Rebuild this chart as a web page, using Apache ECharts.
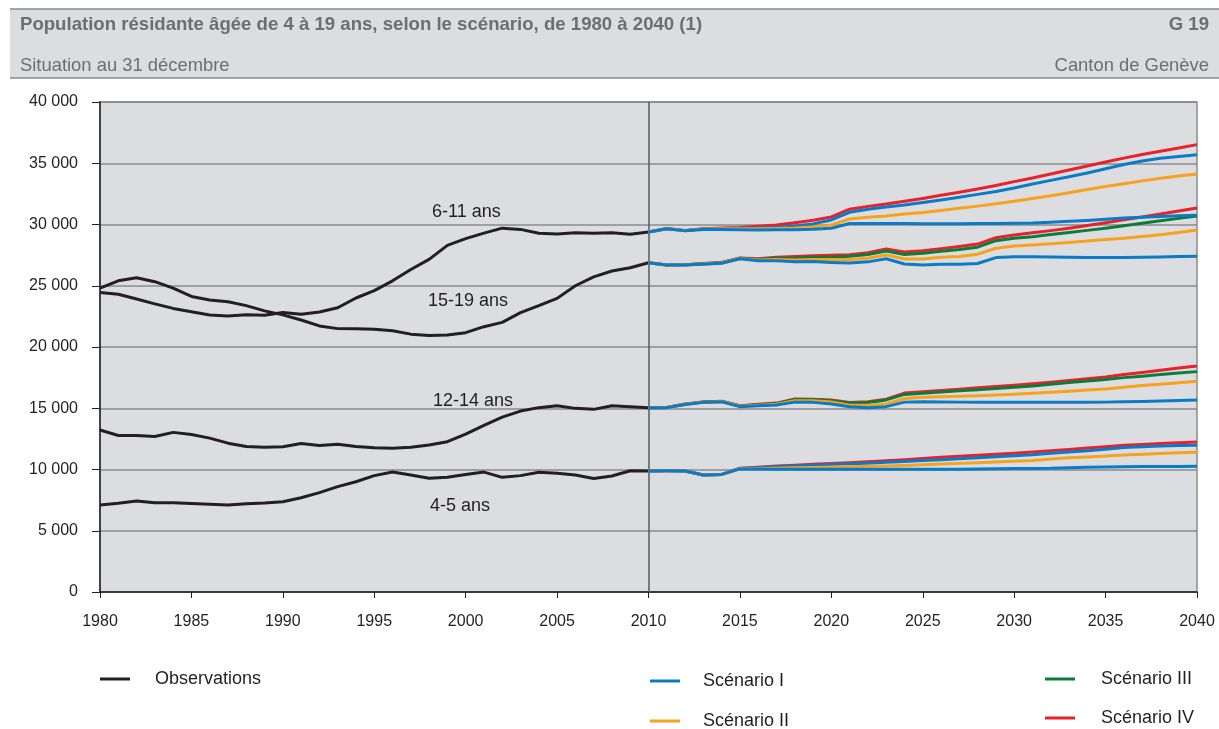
<!DOCTYPE html>
<html>
<head>
<meta charset="utf-8">
<script src="https://cdn.jsdelivr.net/npm/echarts@6/dist/echarts.min.js"></script>
<style>
  html, body { margin: 0; padding: 0; background: #fff; }
  #main { width: 1219px; height: 729px; }
</style>
</head>
<body>
<div id="main"></div>
<script>
// observations 1980-2010
var obs6_11 = [24450, 24300, 23920, 23520, 23150, 22880, 22620, 22540, 22640, 22600, 22820, 22680, 22860, 23200, 24000, 24600, 25400, 26330, 27150, 28300, 28850, 29300, 29700, 29600, 29280, 29220, 29330, 29280, 29330, 29200, 29380];
var obs15_19 = [24800, 25400, 25650, 25330, 24800, 24130, 23840, 23700, 23380, 22950, 22620, 22200, 21720, 21500, 21480, 21450, 21330, 21050, 20930, 20980, 21170, 21660, 22010, 22800, 23370, 23970, 25000, 25730, 26200, 26470, 26880];
var obs12_14 = [13220, 12780, 12780, 12700, 13030, 12850, 12560, 12150, 11870, 11810, 11860, 12120, 11950, 12070, 11880, 11780, 11740, 11810, 12000, 12270, 12880, 13600, 14280, 14770, 15050, 15210, 14990, 14910, 15200, 15130, 15050];
var obs4_5 = [7100, 7240, 7430, 7290, 7290, 7220, 7160, 7100, 7210, 7260, 7370, 7690, 8110, 8600, 9000, 9500, 9800, 9550, 9280, 9360, 9600, 9790, 9360, 9500, 9770, 9690, 9550, 9260, 9470, 9900, 9880];

// scenarios 2010-2040
var s1_6_11 = [29380, 29650, 29480, 29600, 29600, 29580, 29560, 29570, 29580, 29620, 29700, 30080, 30090, 30090, 30080, 30070, 30070, 30070, 30080, 30090, 30100, 30120, 30180, 30260, 30330, 30420, 30530, 30600, 30660, 30710, 30750];
var s2_6_11 = [29380, 29650, 29500, 29620, 29650, 29650, 29650, 29680, 29720, 29800, 29960, 30450, 30600, 30700, 30850, 30980, 31150, 31320, 31500, 31700, 31900, 32120, 32350, 32600, 32850, 33100, 33330, 33560, 33780, 33960, 34120];
var s3_6_11 = [29380, 29660, 29500, 29630, 29680, 29700, 29720, 29780, 29880, 30050, 30370, 31000, 31250, 31420, 31600, 31800, 32000, 32220, 32460, 32700, 32980, 33300, 33600, 33900, 34200, 34550, 34900, 35180, 35400, 35560, 35700];
var s4_6_11 = [29380, 29670, 29520, 29660, 29720, 29760, 29850, 29960, 30150, 30350, 30620, 31250, 31480, 31680, 31900, 32130, 32380, 32640, 32900, 33180, 33500, 33800, 34120, 34450, 34780, 35100, 35420, 35720, 35980, 36250, 36520];

var s1_15_19 = [26880, 26700, 26700, 26760, 26830, 27200, 27050, 27050, 26950, 26980, 26900, 26850, 26950, 27200, 26780, 26700, 26750, 26760, 26820, 27300, 27370, 27370, 27350, 27320, 27300, 27300, 27300, 27330, 27350, 27380, 27400];
var s2_15_19 = [26880, 26700, 26700, 26780, 26860, 27230, 27100, 27150, 27100, 27150, 27150, 27150, 27250, 27520, 27180, 27190, 27320, 27380, 27580, 28060, 28240, 28320, 28420, 28530, 28650, 28780, 28880, 29020, 29170, 29350, 29550];
var s3_15_19 = [26880, 26700, 26710, 26800, 26880, 27250, 27150, 27250, 27250, 27330, 27330, 27400, 27550, 27840, 27550, 27650, 27820, 27960, 28150, 28680, 28870, 29000, 29180, 29350, 29520, 29700, 29900, 30100, 30300, 30500, 30700];
var s4_15_19 = [26880, 26700, 26720, 26820, 26900, 27270, 27200, 27330, 27380, 27450, 27480, 27530, 27700, 28000, 27760, 27850, 28030, 28200, 28400, 28920, 29150, 29320, 29500, 29700, 29920, 30150, 30380, 30620, 30860, 31100, 31350];

var s1_12_14 = [15050, 15050, 15300, 15480, 15520, 15130, 15200, 15260, 15500, 15480, 15350, 15120, 15050, 15130, 15500, 15530, 15520, 15500, 15500, 15490, 15490, 15490, 15480, 15480, 15490, 15500, 15530, 15560, 15590, 15630, 15670];
var s2_12_14 = [15050, 15060, 15320, 15500, 15540, 15160, 15240, 15330, 15620, 15620, 15520, 15250, 15240, 15350, 15800, 15890, 15930, 15980, 16030, 16090, 16150, 16220, 16300, 16390, 16480, 16580, 16720, 16850, 16960, 17080, 17200];
var s3_12_14 = [15050, 15060, 15330, 15510, 15560, 15180, 15280, 15380, 15720, 15700, 15620, 15430, 15470, 15680, 16130, 16230, 16320, 16420, 16520, 16620, 16720, 16820, 16960, 17100, 17230, 17350, 17500, 17620, 17750, 17870, 17990];
var s4_12_14 = [15050, 15070, 15340, 15520, 15580, 15200, 15320, 15420, 15760, 15740, 15680, 15470, 15530, 15740, 16240, 16340, 16450, 16560, 16670, 16780, 16880, 17000, 17120, 17260, 17400, 17550, 17750, 17920, 18100, 18280, 18450];

var s1_4_5 = [9880, 9890, 9880, 9550, 9600, 10050, 10050, 10030, 10030, 10020, 10020, 10020, 10020, 10020, 10020, 10020, 10020, 10030, 10040, 10060, 10080, 10090, 10100, 10150, 10190, 10210, 10230, 10240, 10250, 10255, 10260];
var s2_4_5 = [9880, 9890, 9880, 9550, 9600, 10060, 10080, 10110, 10140, 10170, 10200, 10230, 10260, 10290, 10330, 10380, 10440, 10500, 10560, 10620, 10680, 10740, 10850, 10950, 11020, 11100, 11180, 11250, 11310, 11360, 11400];
var s3_4_5 = [9880, 9890, 9880, 9550, 9600, 10080, 10150, 10220, 10280, 10340, 10400, 10460, 10520, 10590, 10660, 10730, 10800, 10880, 10960, 11040, 11120, 11200, 11320, 11430, 11530, 11650, 11790, 11860, 11910, 11950, 11970];
var s4_4_5 = [9880, 9890, 9880, 9550, 9600, 10100, 10190, 10280, 10350, 10420, 10490, 10560, 10640, 10710, 10800, 10900, 11000, 11080, 11170, 11250, 11330, 11420, 11540, 11640, 11750, 11860, 11970, 12050, 12120, 12190, 12250];

var years = [];
for (var y = 1980; y <= 2040; y++) years.push(String(y));

var groupLabels = ['6-11 ans', '15-19 ans', '12-14 ans', '4-5 ans'];

var BLACK = '#231f20', BLUE = '#0a7bc6', ORANGE = '#f7a11c', GREEN = '#0b7d3b', RED = '#e8212b';
var FONT = '"Liberation Sans", Arial, sans-serif';

var myChart = echarts.init(document.getElementById('main'));

function obsSeries(arr, withLine) {
    var s = {
        name: 'Observations',
        type: 'line',
        data: arr.concat(new Array(30).fill(null)),
        symbol: 'none',
        lineStyle: { color: BLACK, width: 3, join: 'round' },
        itemStyle: { color: BLACK },
        z: 3
    };
    if (withLine) {
        s.markLine = {
            silent: true,
            symbol: 'none',
            label: { show: false },
            lineStyle: { color: '#58595b', width: 1.5, type: 'solid' },
            data: [{ xAxis: '2010' }]
        };
    }
    return s;
}
function scenSeries(name, arr, color, z) {
    return {
        name: name,
        type: 'line',
        data: new Array(30).fill(null).concat(arr),
        symbol: 'none',
        lineStyle: { color: color, width: 3, join: 'round' },
        itemStyle: { color: color },
        z: z
    };
}

var series = [
    obsSeries(obs6_11, true),
    obsSeries(obs15_19),
    obsSeries(obs12_14),
    obsSeries(obs4_5),
    scenSeries('Scénario IV', s4_15_19, RED, 4),
    scenSeries('Scénario III', s3_15_19, GREEN, 5),
    scenSeries('Scénario IV', s4_12_14, RED, 4),
    scenSeries('Scénario III', s3_12_14, GREEN, 5),
    scenSeries('Scénario IV', s4_6_11, RED, 4),
    scenSeries('Scénario IV', s4_4_5, RED, 4),
    scenSeries('Scénario III', s3_6_11, BLUE, 5),
    scenSeries('Scénario III', s3_4_5, BLUE, 5),
    scenSeries('Scénario II', s2_6_11, ORANGE, 6),
    scenSeries('Scénario II', s2_15_19, ORANGE, 6),
    scenSeries('Scénario II', s2_12_14, ORANGE, 6),
    scenSeries('Scénario II', s2_4_5, ORANGE, 6),
    scenSeries('Scénario I', s1_6_11, BLUE, 7),
    scenSeries('Scénario I', s1_15_19, BLUE, 7),
    scenSeries('Scénario I', s1_12_14, BLUE, 7),
    scenSeries('Scénario I', s1_4_5, BLUE, 7)
];

function legendItem(name, color, left, top, gap) {
    return {
        data: [{ name: name, itemStyle: { color: color } }],
        left: left, top: top, padding: 0,
        icon: 'rect', itemWidth: 30, itemHeight: 3,
        selectedMode: false,
        textStyle: { color: BLACK, fontSize: 18, fontFamily: FONT, padding: [0, 0, 0, gap] }
    };
}

myChart.setOption({
    animation: false,
    backgroundColor: '#fff',
    textStyle: { fontFamily: FONT },
    grid: {
        left: 100, right: 22, top: 102, bottom: 137,
        show: true,
        backgroundColor: '#dcdde0',
        borderColor: '#8a8a8c',
        borderWidth: 1.5
    },
    xAxis: {
        type: 'category',
        data: years,
        boundaryGap: false,
        axisLine: { show: true, onZero: false, lineStyle: { color: BLACK, width: 1.5 } },
        axisTick: { show: true, interval: 4, length: 6, lineStyle: { color: BLACK } },
        axisLabel: { interval: 4, color: BLACK, fontSize: 16, margin: 22, fontFamily: FONT },
        splitLine: { show: false }
    },
    yAxis: {
        type: 'value',
        min: 0, max: 40000, interval: 5000,
        axisLine: { show: true, lineStyle: { color: BLACK, width: 1.5 } },
        axisTick: { show: true, length: 8, lineStyle: { color: BLACK } },
        axisLabel: {
            color: BLACK, fontSize: 16, margin: 22, fontFamily: FONT,
            formatter: function (v) { return v >= 1000 ? Math.floor(v / 1000) + ' ' + String(v % 1000).padStart(3, '0') : String(v); }
        },
        splitLine: { show: true, lineStyle: { color: '#8a8a8c', width: 1.5 } }
    },
    legend: [
        legendItem('Observations', BLACK, 100, 670, 20),
        legendItem('Scénario I', BLUE, 650, 672, 18),
        legendItem('Scénario II', ORANGE, 650, 712, 18),
        legendItem('Scénario III', GREEN, 1045, 670, 21),
        legendItem('Scénario IV', RED, 1045, 709, 21)
    ],
    graphic: [
        { type: 'rect', shape: { x: 10, y: 9, width: 1209, height: 69 }, style: { fill: '#dcdde0' }, silent: true },
        { type: 'line', shape: { x1: 10, y1: 9, x2: 1219, y2: 9 }, style: { stroke: '#8a8a8c', lineWidth: 1.5 }, silent: true },
        { type: 'line', shape: { x1: 10, y1: 78, x2: 1219, y2: 78 }, style: { stroke: '#8a8a8c', lineWidth: 1.5 }, silent: true },
        { type: 'text', x: 20, y: 25, style: { text: 'Population résidante âgée de 4 à 19 ans, selon le scénario, de 1980 à 2040 (1)', font: 'bold 18.6px ' + FONT, fill: '#6d6e70', verticalAlign: 'middle' } },
        { type: 'text', x: 1209, y: 25, style: { text: 'G 19', font: 'bold 18.6px ' + FONT, fill: '#6d6e70', align: 'right', verticalAlign: 'middle' } },
        { type: 'text', x: 20, y: 66, style: { text: 'Situation au 31 décembre', font: '18.4px ' + FONT, fill: '#6d6e70', verticalAlign: 'middle' } },
        { type: 'text', x: 1209, y: 66, style: { text: 'Canton de Genève', font: '18.4px ' + FONT, fill: '#6d6e70', align: 'right', verticalAlign: 'middle' } },
        { type: 'text', x: 432, y: 212, style: { text: groupLabels[0], font: '18px ' + FONT, fill: BLACK, verticalAlign: 'middle' } },
        { type: 'text', x: 428, y: 301, style: { text: groupLabels[1], font: '18px ' + FONT, fill: BLACK, verticalAlign: 'middle' } },
        { type: 'text', x: 433, y: 401, style: { text: groupLabels[2], font: '18px ' + FONT, fill: BLACK, verticalAlign: 'middle' } },
        { type: 'text', x: 430, y: 506, style: { text: groupLabels[3], font: '18px ' + FONT, fill: BLACK, verticalAlign: 'middle' } }
    ],
    series: series
});
</script>
</body>
</html>
